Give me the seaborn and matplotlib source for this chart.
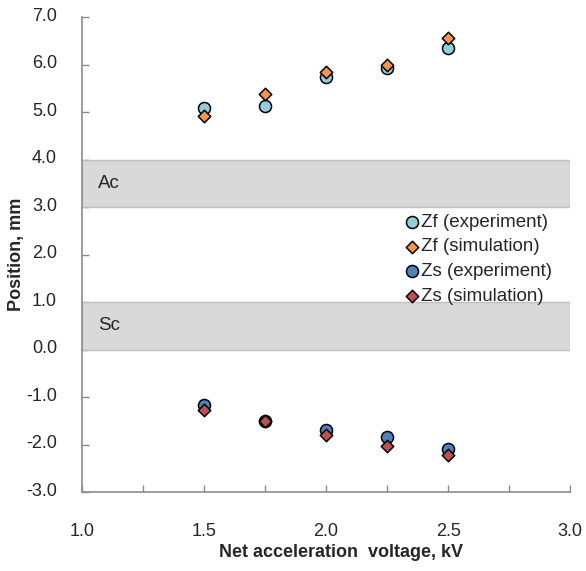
import pandas as pd
import seaborn as sns
import matplotlib.pyplot as plt
from matplotlib.ticker import MultipleLocator, FormatStrFormatter
from matplotlib.transforms import ScaledTranslation

# data
voltage = [1.5, 1.75, 2.0, 2.25, 2.5]
zf_exp = [5.09, 5.13, 5.75, 5.92, 6.36]
zf_sim = [4.92, 5.39, 5.84, 5.99, 6.57]
zs_exp = [-1.16, -1.50, -1.70, -1.84, -2.10]
zs_sim = [-1.26, -1.50, -1.79, -2.02, -2.21]

series_names = ["Zf (experiment)", "Zf (simulation)", "Zs (experiment)", "Zs (simulation)"]
series_colors = ["#92CDDC", "#F79646", "#4F81BD", "#C0504D"]
series_markers = ["o", "D", "o", "D"]

# electrode bands (name, bottom, top)
band_names = ["Ac", "Sc"]
band_lo = [3.0, 0.0]
band_hi = [4.0, 1.0]

sns.set_style("white")
plt.rcParams['font.family'] = ['Liberation Sans', 'DejaVu Sans']

df = pd.DataFrame({
    "voltage": voltage * 4,
    "position": zf_exp + zf_sim + zs_exp + zs_sim,
    "series": sum([[n] * len(voltage) for n in series_names], []),
})

fig = plt.figure(figsize=(5.86, 5.71), dpi=100)
ax = fig.add_axes([0.140, 0.138, 0.833, 0.832])

# gray bands
for name, lo, hi in zip(band_names, band_lo, band_hi):
    ax.axhspan(lo, hi, xmin=0, xmax=1, facecolor="#d9d9d9", edgecolor="#bfbfbf", lw=1, zorder=1)
    ax.text(1.065, (lo + hi) / 2, name, fontsize=13.5, va="center", ha="left", zorder=2)

for name, col, mk in zip(series_names, series_colors, series_markers):
    sub = df[df["series"] == name]
    sns.scatterplot(data=sub, x="voltage", y="position", ax=ax, color=col, marker=mk,
                    s=75 if mk == "o" else 40, edgecolor="black", linewidth=1.1,
                    label=name, zorder=3)

ax.set_xlim(1.0, 3.0)
ax.set_ylim(-3.0, 7.0)
ax.xaxis.set_major_locator(MultipleLocator(0.5))
ax.xaxis.set_minor_locator(MultipleLocator(0.25))
ax.yaxis.set_major_locator(MultipleLocator(1.0))
ax.xaxis.set_major_formatter(FormatStrFormatter("%.1f"))
ax.yaxis.set_major_formatter(FormatStrFormatter("%.1f"))

for s in ["top", "right"]:
    ax.spines[s].set_visible(False)
for s in ["left", "bottom"]:
    ax.spines[s].set_color("#8c8c8c")
    ax.spines[s].set_linewidth(1.2)

ax.tick_params(axis="x", which="both", direction="in", length=5, color="#8c8c8c",
               width=1, pad=22, labelsize=13, bottom=True)
ax.tick_params(axis="y", which="major", direction="in", length=5, color="#8c8c8c",
               width=1, pad=18, labelsize=13, left=True)

# y tick labels sit a little above their ticks in the original
for lab in ax.get_yticklabels():
    lab.set_transform(lab.get_transform() + ScaledTranslation(0, 2 / 72, fig.dpi_scale_trans))

ax.set_xlabel("Net acceleration  voltage, kV", fontsize=13, fontweight="bold", labelpad=3)
ax.xaxis.label.set_x(0.53)
ax.set_ylabel("Position, mm", fontsize=13, fontweight="bold", labelpad=1)

leg = ax.legend(loc="upper left", bbox_to_anchor=(0.646, 0.602), frameon=False,
                fontsize=13.5, handlelength=0.8, handletextpad=0.05, labelspacing=0.4,
                borderaxespad=0, markerscale=1.0)

plt.savefig("out.png", dpi=100)
